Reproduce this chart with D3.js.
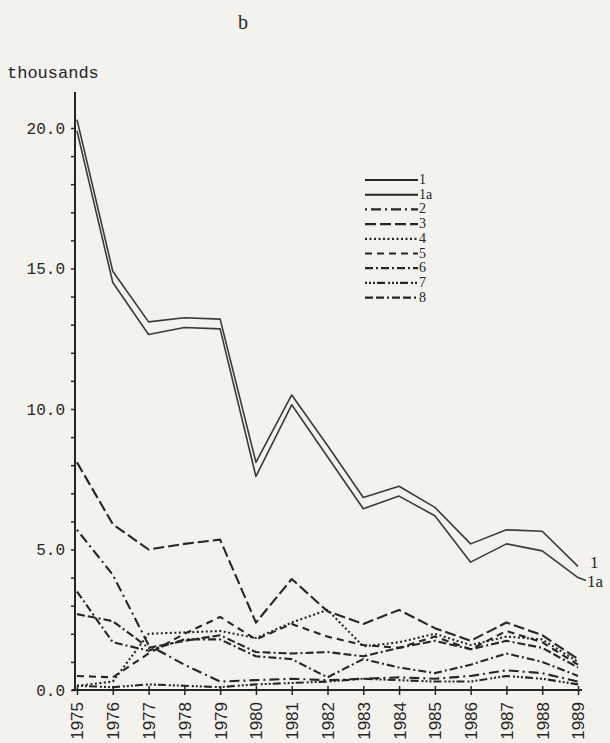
<!DOCTYPE html>
<html><head><meta charset="utf-8">
<script src="https://cdn.jsdelivr.net/npm/d3@7"></script>
<style>body{margin:0;background:#f4f2ed}</style>
</head><body>
<svg id="chart" width="610" height="743"></svg>
<script>
// ---- data (thousands) ----
const years = [1975,1976,1977,1978,1979,1980,1981,1982,1983,1984,1985,1986,1987,1988,1989];
const s1  = [20.3,14.9,13.1,13.25,13.2,8.1,10.5,8.7,6.85,7.25,6.5,5.2,5.7,5.65,4.4];
const s1a = [19.9,14.5,12.65,12.9,12.85,7.6,10.15,8.3,6.45,6.9,6.2,4.55,5.2,4.95,4.0];
const s2  = [5.7,4.1,1.6,0.9,0.3,0.35,0.4,0.35,0.4,0.45,0.4,0.5,0.7,0.6,0.3];
const s3  = [8.1,5.9,5.0,5.2,5.35,2.4,3.95,2.8,2.35,2.85,2.2,1.75,2.4,1.95,1.1];
const s4  = [0.15,0.3,2.0,2.05,2.1,1.85,2.4,2.85,1.55,1.7,2.0,1.6,1.9,1.8,1.0];
const s5  = [0.5,0.45,1.3,2.0,2.6,1.8,2.35,1.9,1.6,1.5,1.9,1.45,2.1,1.7,0.9];
const s6  = [3.5,1.7,1.4,1.8,1.8,1.2,1.1,0.45,1.1,0.8,0.6,0.9,1.3,1.0,0.5];
const s7  = [0.15,0.1,0.2,0.15,0.1,0.2,0.25,0.3,0.4,0.35,0.3,0.3,0.5,0.4,0.2];
const s8  = [2.7,2.45,1.5,1.75,1.95,1.35,1.3,1.35,1.2,1.5,1.75,1.45,1.75,1.5,0.8];
const seriesNames = ["1","1a","2","3","4","5","6","7","8"];
const seriesValues = [s1,s1a,s2,s3,s4,s5,s6,s7,s8];
const yMajorTicks = [0,5,10,15,20];
const yMinorTicks = [0,1,2,3,4,5,6,7,8,9,10,11,12,13,14,15,16,17,18,19,20];
const title = "b";
const unitLabel = "thousands";

// ---- styles ----
const ink = "#262626";
const dashes = {
  "1": null, "1a": null,
  "2": "2,4,10,4",
  "3": "11,4",
  "4": "2,2.5",
  "5": "7,5",
  "6": "8,3,2,3",
  "7": "2,2,2,2,2,2,8,3",
  "8": "8,3,8,3,2,3"
};

const svg = d3.select("#chart");
svg.append("rect").attr("width",610).attr("height",743).attr("fill","#f4f2ed");

const x = d3.scalePoint().domain(years).range([77,578]);
const y = d3.scaleLinear().domain([0,20]).range([690,128]);

// title
svg.append("text").attr("x",243).attr("y",29).attr("text-anchor","middle")
  .attr("font-family","Liberation Serif").attr("font-size",20).attr("fill",ink).text(title);
svg.append("text").attr("x",7).attr("y",78)
  .attr("font-family","Liberation Mono").attr("font-size",17).attr("fill",ink).text(unitLabel);

// y axis
const yAxis = d3.axisLeft(y).tickValues(yMinorTicks).tickSize(4).tickPadding(6)
  .tickFormat(d => yMajorTicks.includes(d) ? d.toFixed(1) : "");
const gy = svg.append("g").attr("transform","translate(75,0)").call(yAxis);
gy.select(".domain").remove();
gy.selectAll("line").attr("stroke",ink).attr("stroke-width",1.5);
gy.selectAll("text").attr("font-family","Liberation Mono").attr("font-size",16).attr("fill",ink);
svg.append("line").attr("x1",75).attr("x2",75).attr("y1",92).attr("y2",y(0))
  .attr("stroke",ink).attr("stroke-width",2);

// x axis
const xAxis = d3.axisBottom(x).tickSize(5).tickPadding(4);
const gx = svg.append("g").attr("transform",`translate(0,${y(0)})`).call(xAxis);
gx.select(".domain").remove();
gx.selectAll("line").attr("stroke",ink).attr("stroke-width",1.5).attr("y1",-4);
gx.selectAll("text").attr("font-family","Liberation Sans").attr("font-size",17).attr("fill",ink)
  .attr("text-anchor","end").attr("dy","0.35em")
  .attr("transform","translate(0,4) rotate(-90)").attr("x",-8).attr("y",0);
svg.append("line").attr("x1",72).attr("x2",582).attr("y1",y(0)).attr("y2",y(0))
  .attr("stroke",ink).attr("stroke-width",2);

// lines
const line = d3.line().x((d,i)=>x(years[i])).y(d=>y(d));
seriesNames.forEach((name,k) => {
  const main = name === "1" || name === "1a";
  svg.append("path").datum(seriesValues[k])
    .attr("d", line).attr("fill","none")
    .attr("stroke", main ? "#3a3a3a" : ink)
    .attr("stroke-width", main ? 1.6 : 2.1)
    .attr("stroke-linejoin","round")
    .attr("stroke-dasharray", dashes[name]);
});

// end labels for 1 and 1a
svg.append("text").attr("x",590).attr("y", y(s1[s1.length-1]) + 2)
  .attr("font-family","Liberation Serif").attr("font-size",17).attr("fill",ink).text("1");
svg.append("line").attr("x1",x(1989)).attr("y1",y(s1a[s1a.length-1]))
  .attr("x2",x(1989)+8).attr("y2",y(s1a[s1a.length-1])+3).attr("stroke","#3a3a3a").attr("stroke-width",1.6);
svg.append("text").attr("x",587).attr("y", y(s1a[s1a.length-1]) + 9)
  .attr("font-family","Liberation Serif").attr("font-size",17).attr("fill",ink).text("1a");

// legend
const legY0 = 180, legStep = 14.7;
seriesNames.forEach((name,k) => {
  const ly = legY0 + k*legStep;
  const main = name === "1" || name === "1a";
  svg.append("line").attr("x1",365).attr("x2",418).attr("y1",ly).attr("y2",ly)
    .attr("stroke",ink).attr("stroke-width", main ? 2 : 2.2)
    .attr("stroke-dasharray", dashes[name]);
  svg.append("text").attr("x",419).attr("y",ly+4)
    .attr("font-family","Liberation Serif").attr("font-size",14).attr("fill",ink).text(name);
});
</script>
</body></html>
